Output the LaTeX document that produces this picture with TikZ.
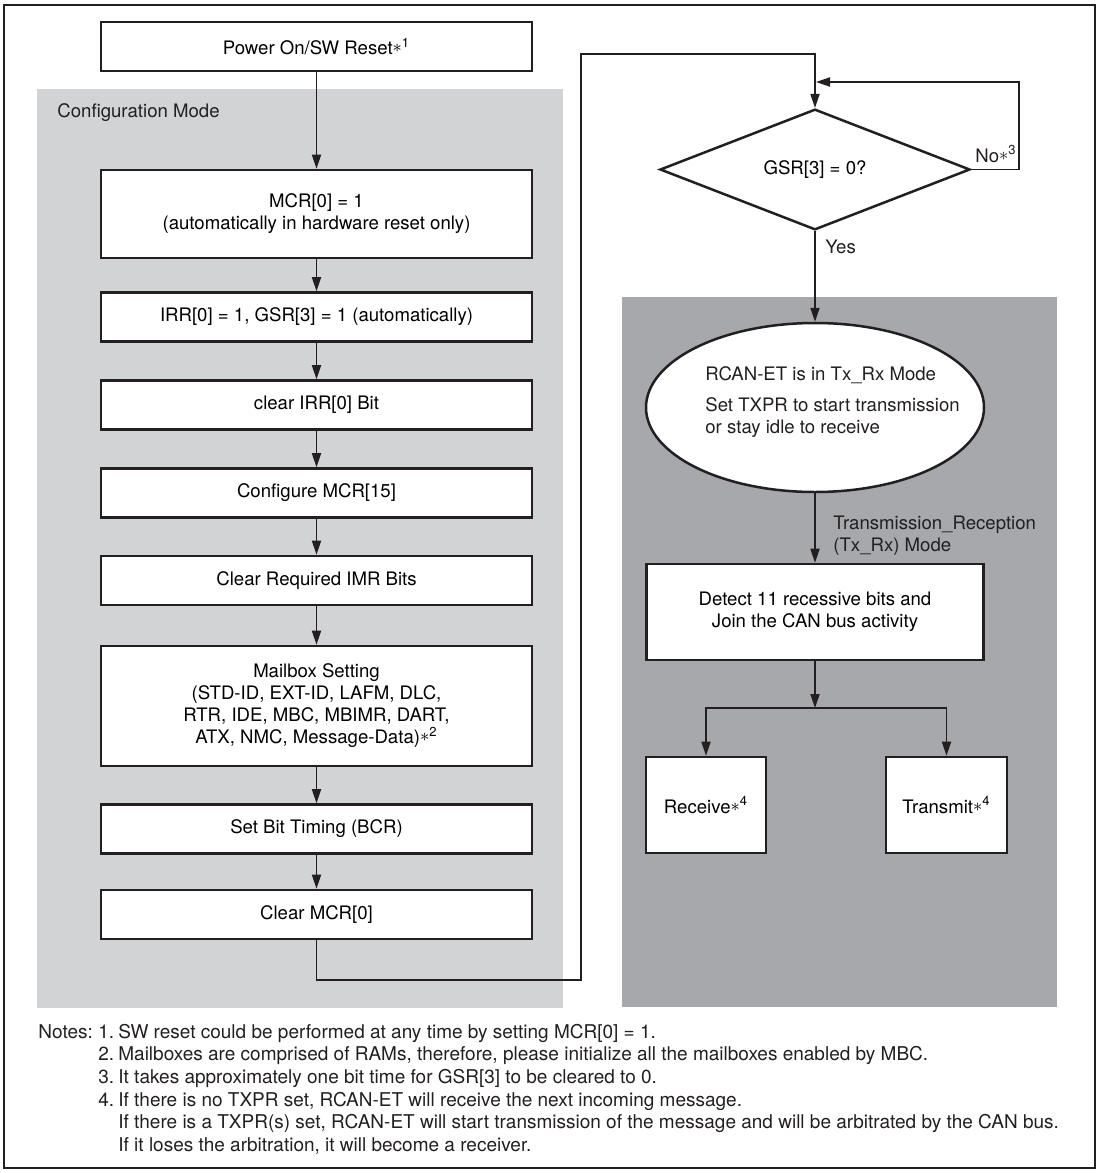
\documentclass[tikz,border=0pt]{standalone}
\usepackage{fontspec}
\setmainfont{TeX Gyre Heros}
\usetikzlibrary{arrows.meta,shapes.geometric}
\definecolor{configgray}{RGB}{210,211,213}
\definecolor{txrxgray}{RGB}{167,168,172}
\definecolor{inkline}{RGB}{35,31,32}
\newcommand{\noteref}[1]{\raisebox{0.12em}{\small$\ast$}\textsuperscript{#1}}
\begin{document}
\begin{tikzpicture}[x=0.5pt, y=-0.5pt, font=\fontsize{9.3}{11}\selectfont,
  stepbox/.style={draw=inkline, line width=1.35pt, fill=white, align=center,
    minimum width=215.5pt, minimum height=24.5pt, inner sep=2pt},
  decision/.style={draw=inkline, line width=1.25pt, fill=white, diamond,
    minimum width=155pt, minimum height=47.5pt, inner sep=0pt},
  modeell/.style={draw=inkline, line width=1.25pt, fill=white, ellipse,
    minimum width=169pt, minimum height=84.5pt},
  flow/.style={draw=inkline, line width=0.65pt, -{Triangle[length=7pt,width=4.6pt]}},
  txt/.style={inner sep=0pt, text=inkline}]
\useasboundingbox (0,0) rectangle (1100,1173);
\draw[inkline, line width=1.4pt] (4,5) rectangle (1095,1168);
\fill[configgray] (37,89) rectangle (563,1008);
\fill[txrxgray] (622,297) rectangle (1057,1007);
\node[txt, anchor=west] (cfglbl) at (57,113) {Configuration Mode};
% configuration steps
\node[stepbox] (power) at (316.5,46.5) {Power On/SW Reset\noteref{1}};
\node[stepbox, minimum height=44pt] (mcrset) at (316.5,214) {MCR[0] = 1\\(automatically in hardware reset only)};
\node[stepbox] (irrset) at (316.5,317) {IRR[0] = 1, GSR[3] = 1 (automatically)};
\node[stepbox] (irrclr) at (316.5,405) {clear IRR[0] Bit};
\node[stepbox] (mcrcfg) at (316.5,493) {Configure MCR[15]};
\node[stepbox] (imrclr) at (316.5,580.5) {Clear Required IMR Bits};
\node[stepbox, minimum height=60pt] (mailbox) at (316.5,706) {Mailbox Setting\\(STD-ID, EXT-ID, LAFM, DLC,\\RTR, IDE, MBC, MBIMR, DART,\\ATX, NMC, Message-Data)\noteref{2}};
\node[stepbox] (bcrset) at (316.5,829) {Set Bit Timing (BCR)};
\node[stepbox] (mcrclr) at (316.5,914.5) {Clear MCR[0]};
\draw[flow] (power.south) -- (mcrset.north);
\draw[flow] (mcrset.south) -- (irrset.north);
\draw[flow] (irrset.south) -- (irrclr.north);
\draw[flow] (irrclr.south) -- (mcrcfg.north);
\draw[flow] (mcrcfg.south) -- (imrclr.north);
\draw[flow] (imrclr.south) -- (mailbox.north);
\draw[flow] (mailbox.south) -- (bcrset.north);
\draw[flow] (bcrset.south) -- (mcrclr.north);
% wait for GSR[3]
\node[decision] (gsrtest) at (815,169.5) {GSR[3] = 0?};
\coordinate (lowturn) at (581,980);
\coordinate (topturn) at (581,54);
\draw[flow] (mcrclr.south) |- (lowturn) -- (topturn) -| (gsrtest.north);
\coordinate (loopturn) at (1019,82);
\coordinate (loopin) at (816,82);
\draw[flow] (gsrtest.east) -| (loopturn) -- (loopin);
\node[txt, anchor=south west] (nolbl) at (975,163) {No\noteref{3}};
\node[txt, anchor=west] (yeslbl) at (825,247) {Yes};
% Tx_Rx mode
\node[modeell] (txrxmode) at (815,407.5) {};
\node[txt, anchor=west, align=left] (modetext) at (705,402) {RCAN-ET is in Tx\_Rx Mode\\[4.5pt]Set TXPR to start transmission\\or stay idle to receive};
\draw[flow] (gsrtest.south) -- (txrxmode.north);
\node[stepbox, minimum width=168.5pt, minimum height=48pt] (detect) at (815,612) {Detect 11 recessive bits and\\Join the CAN bus activity};
\draw[flow] (txrxmode.south) -- (detect.north);
\node[txt, anchor=west, align=left] (modelbl) at (833,536) {Transmission\_Reception\\(Tx\_Rx) Mode};
\node[stepbox, minimum width=60pt, minimum height=48pt] (receive) at (706,805) {Receive\noteref{4}};
\node[stepbox, minimum width=60.5pt, minimum height=48pt] (transmit) at (946.5,805) {Transmit\noteref{4}};
\coordinate (split) at (815,708);
\draw[flow] (detect.south) -- (split);
\draw[flow] (split) -| (receive.north);
\draw[flow] (split) -| (transmit.north);
% notes
\node[txt, anchor=north west, font=\fontsize{9.5}{11.3}\selectfont] (notes) at (38,1022) {%
\begin{tabular}{@{}p{30pt}@{}p{10pt}@{}l@{}}
Notes: & 1. & SW reset could be performed at any time by setting MCR[0] = 1.\\
 & 2. & Mailboxes are comprised of RAMs, therefore, please initialize all the mailboxes enabled by MBC.\\
 & 3. & It takes approximately one bit time for GSR[3] to be cleared to 0.\\
 & 4. & If there is no TXPR set, RCAN-ET will receive the next incoming message.\\
 & & If there is a TXPR(s) set, RCAN-ET will start transmission of the message and will be arbitrated by the CAN bus.\\
 & & If it loses the arbitration, it will become a receiver.
\end{tabular}};
\end{tikzpicture}
\end{document}
